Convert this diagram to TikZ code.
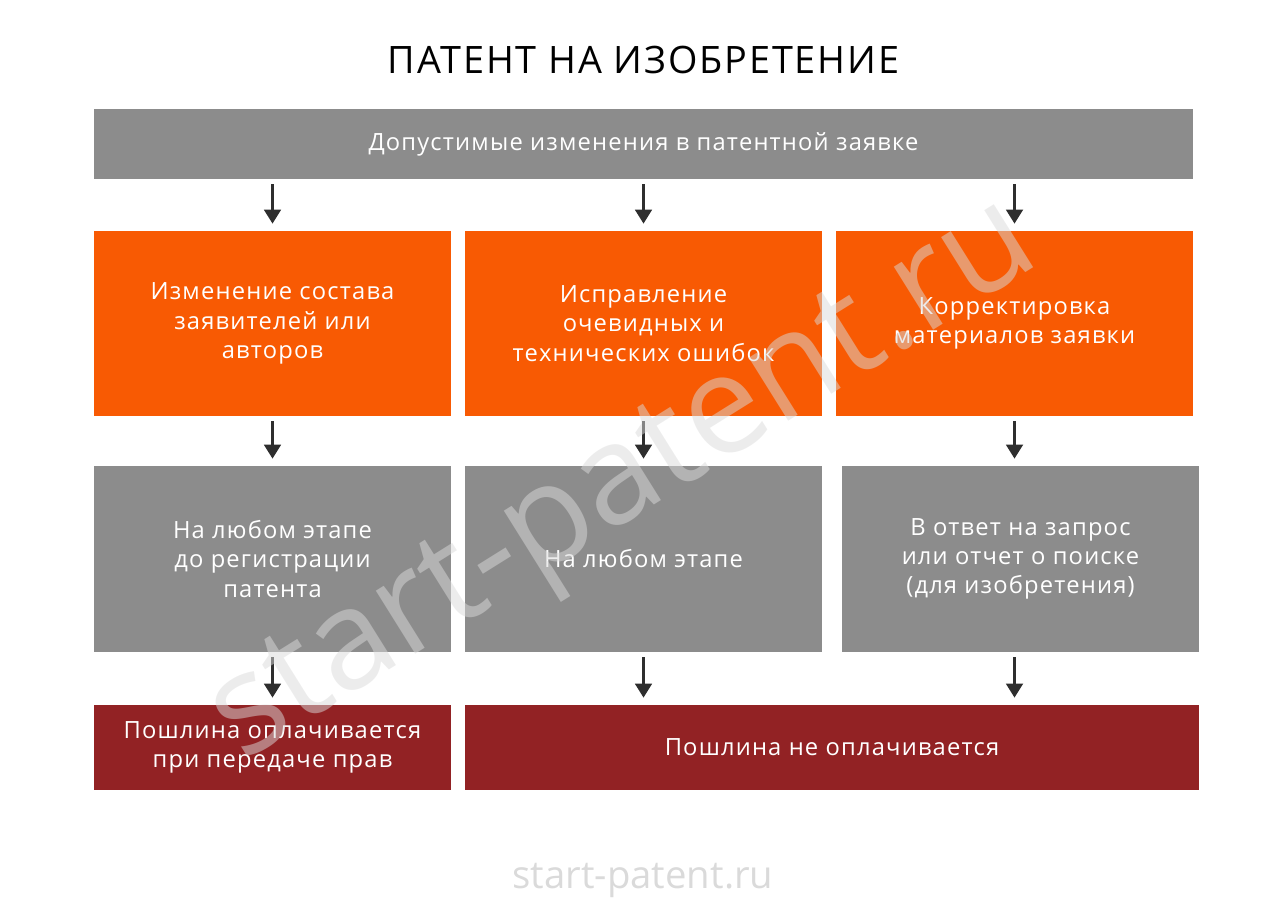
\documentclass[tikz,border=0pt]{standalone}
\usepackage{fontspec}
\setmainfont{Open Sans}[LetterSpace=5]
\newfontfamily\markfont{Open Sans}
\usetikzlibrary{arrows.meta}
\definecolor{boxgray}{HTML}{8C8C8C}
\definecolor{boxorange}{HTML}{F85A03}
\definecolor{boxred}{HTML}{922224}
\definecolor{arrowgray}{HTML}{2E2E2E}
\definecolor{markgray}{HTML}{DADADA}
\tikzset{
	box/.style={fill=#1,text=white,align=center,inner sep=0pt,font=\fontsize{13.5}{16.6}\selectfont},
	down/.style={draw=arrowgray,line width=1.6pt,-{Triangle[width=9.5pt,length=8pt]},shorten <=2.8pt,shorten >=4pt}
}
\begin{document}
\begin{tikzpicture}[x=0.02cm,y=-0.02cm]
	\useasboundingbox (0,0) rectangle (1287,900);
	\node[font=\fontsize{21.5}{26}\selectfont] (T) at (643.5,60) {ПАТЕНТ НА ИЗОБРЕТЕНИЕ};
	\node[box=boxgray,minimum width=21.98cm,minimum height=1.4cm] (A) at (643.5,144) {Допустимые изменения в патентной заявке};
	\node[box=boxorange,minimum width=7.14cm,minimum height=3.7cm] (B) at (272.5,323.5) {Изменение состава\\заявителей или\\авторов};
	\node[box=boxorange,minimum width=7.14cm,minimum height=3.7cm] (C) at (643.5,323.5) {Исправление\\очевидных и\\технических ошибок};
	\node[box=boxorange,minimum width=7.14cm,minimum height=3.7cm] (D) at (1014.5,323.5) {Корректировка\\материалов заявки};
	\node[box=boxgray,minimum width=7.14cm,minimum height=3.72cm] (E) at (272.5,559) {На любом этапе\\до регистрации\\патента};
	\node[box=boxgray,minimum width=7.14cm,minimum height=3.72cm] (F) at (643.5,559) {На любом этапе};
	\node[box=boxgray,minimum width=7.14cm,minimum height=3.72cm] (G) at (1020.5,559) {В ответ на запрос\\или отчет о поиске\\(для изобретения)};
	\node[box=boxred,minimum width=7.14cm,minimum height=1.7cm] (H) at (272.5,747.5) {Пошлина оплачивается\\при передаче прав};
	\node[box=boxred,minimum width=14.68cm,minimum height=1.7cm] (I) at (832,747.5) {Пошлина не оплачивается};
	
	\draw[down] (A.south -| B) -- (B);
	\draw[down] (A.south -| C) -- (C);
	\draw[down] (A.south -| D) -- (D);
	\draw[down] (B) -- (E);
	\draw[down] (C) -- (F);
	\draw[down] (D) -- (D |- G.north);
	\draw[down] (E) -- (H);
	\draw[down] (F) -- (F |- I.north);
	\draw[down] (G.south -| D) -- (I.north -| D);
	
	% watermark
	\node[rotate=32,text=markgray,opacity=0.5,font=\markfont\fontsize{79}{79}\selectfont] (W) at (628,487) {start-patent.ru};
	\node[text=markgray,font=\markfont\fontsize{21.8}{26}\selectfont] (U) at (643,880) {start-patent.ru};
\end{tikzpicture}
\end{document}
